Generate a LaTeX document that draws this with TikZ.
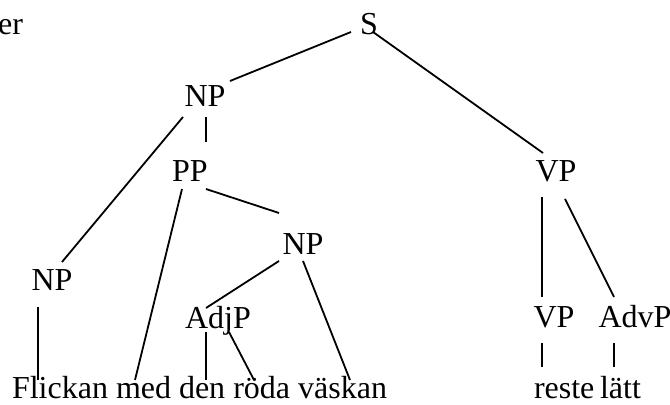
\documentclass[tikz,border=0pt]{standalone}
\usepackage{fontspec}
\setmainfont{Liberation Serif}
\usetikzlibrary{calc}
\begin{document}
\begin{tikzpicture}[x=0.5pt,y=-0.5pt,
  lbl/.style={inner sep=0pt,outer sep=0pt,anchor=base,font=\fontsize{16}{19}\selectfont},
  word/.style={lbl,anchor=base west},
  edge/.style={line width=0.9pt}]
\useasboundingbox (0,0) rectangle (670,405);
% labels
\node[lbl,anchor=base east] (er) at (23,35) {er};
\node[lbl] (S) at (369,35) {S};
\node[lbl] (NPa) at (205,107) {NP};
\node[lbl] (PP) at (190,182) {PP};
\node[lbl] (VPa) at (556,182) {VP};
\node[lbl] (NPr) at (303,255) {NP};
\node[lbl] (NPl) at (52,291) {NP};
\node[lbl] (AdjP) at (218,329) {AdjP};
\node[lbl] (VPb) at (554,328) {VP};
\node[lbl] (AdvP) at (635,328) {AdvP};
% words
\node[word] (w1) at (12,399) {Flickan};
\node[word] (w2) at (116,399) {med};
\node[word] (w3) at (179,399) {den};
\node[word] (w4) at (233.3,399) {röda};
\node[word] (w5) at (298.2,399) {väskan};
\node[word] (w6) at (534,399) {reste};
\node[word] (w7) at (600,399) {lätt};
% connectors
\draw[edge] ($(S.base)+(-18,-3)$) -- ($(NPa.base)+(25,-26)$);
\draw[edge] ($(S.base)+(4,-3)$) -- ($(VPa.base)+(-13,-29)$);
\draw[edge] ($(NPa.base)+(1,10)$) -- ($(PP.base)+(16,-40)$);
\draw[edge] ($(NPa.base)+(-22,10)$) -- ($(NPl.base)+(10,-29)$);
\draw[edge] ($(PP.base)+(-8,7)$) -- ($(w2.base west)+(19,-19)$);
\draw[edge] ($(PP.base)+(16,7)$) -- ($(NPr.base)+(-24,-42)$);
\draw[edge] ($(NPr.base)+(-24,6)$) -- ($(AdjP.base)+(-12,-21)$);
\draw[edge] ($(NPr.base)+(0,6)$) -- ($(w5.base west)+(51.8,-19)$);
\draw[edge] ($(NPl.base)+(-14,16)$) -- ($(w1.base west)+(26,-19)$);
\draw[edge] ($(AdjP.base)+(-12,3)$) -- ($(w3.base west)+(27,-19)$);
\draw[edge] ($(AdjP.base)+(11,3)$) -- ($(w4.base west)+(20.7,-19)$);
\draw[edge] ($(VPa.base)+(-14,15)$) -- ($(VPb.base)+(-12,-31)$);
\draw[edge] ($(VPa.base)+(9,17)$) -- ($(AdvP.base)+(-21,-31)$);
\draw[edge] ($(VPb.base)+(-12,15)$) -- ($(w6.base west)+(8,-32)$);
\draw[edge] ($(AdvP.base)+(-21,15)$) -- ($(w7.base west)+(14,-32)$);
\end{tikzpicture}
\end{document}
